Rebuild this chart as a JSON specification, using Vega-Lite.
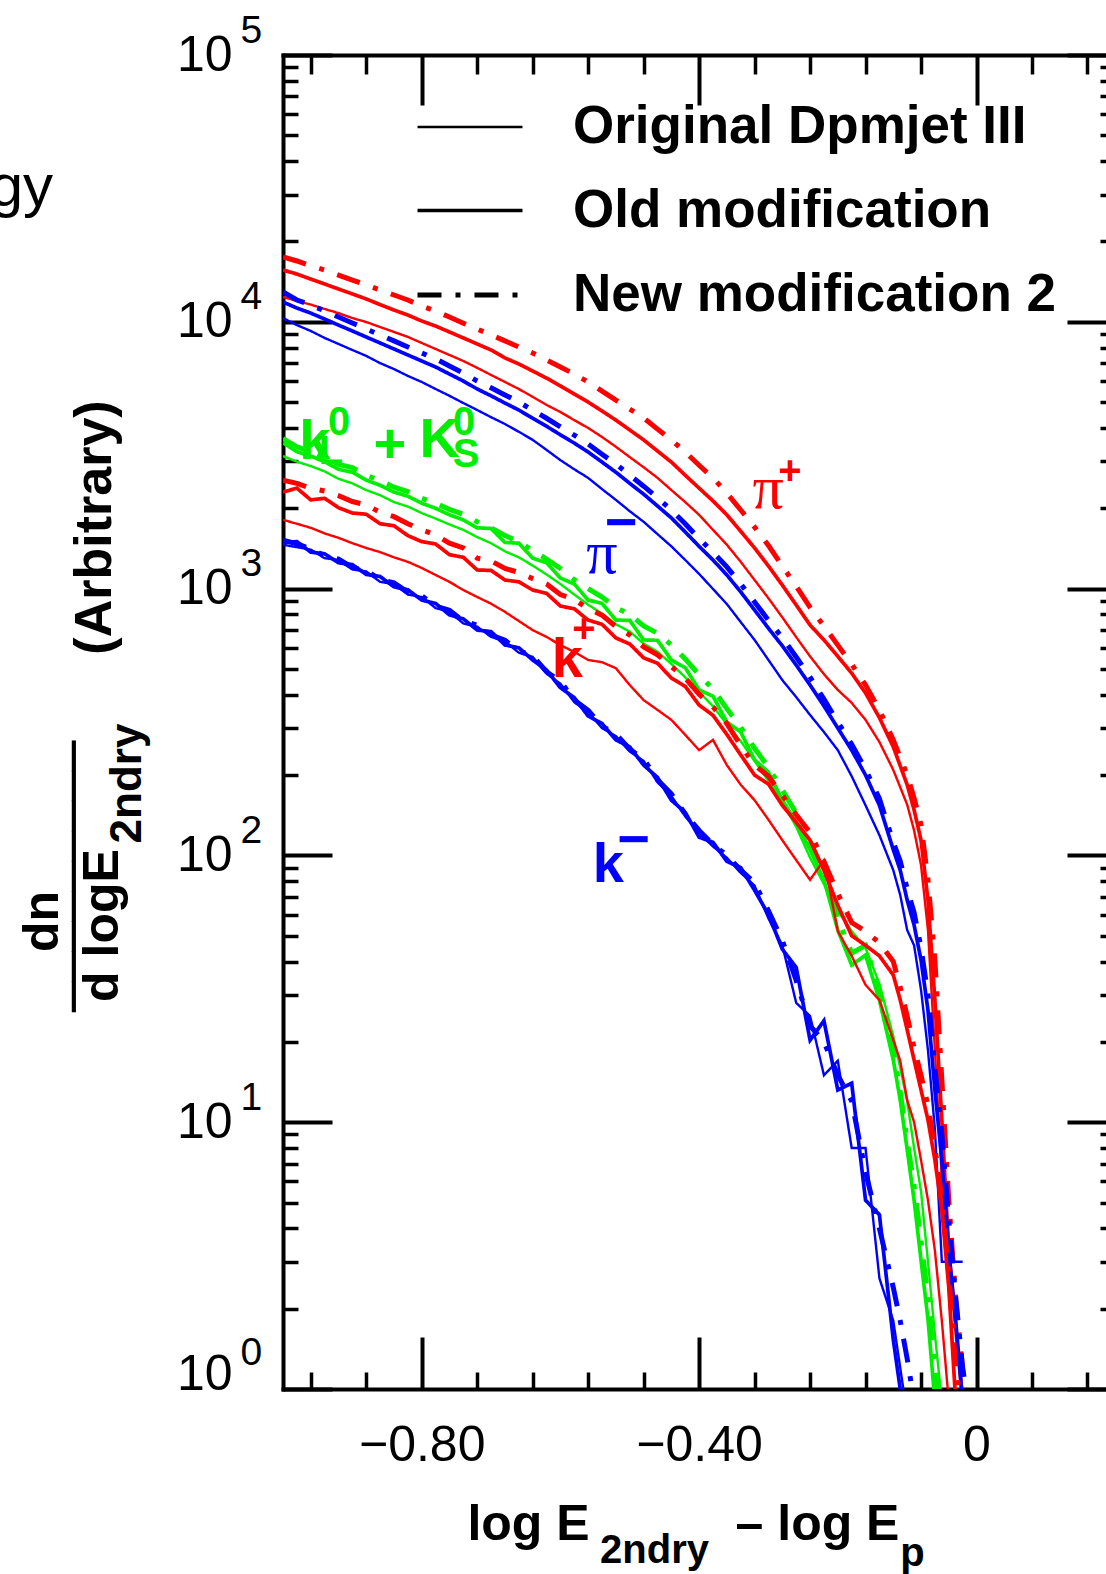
{
  "$schema": "https://vega.github.io/schema/vega-lite/v6.json",
  "width": 823,
  "height": 1334,
  "autosize": {"type": "none"},
  "padding": {"left": 283, "top": 55, "right": 0, "bottom": 185},
  "background": "white",
  "title": {"text": "gy", "orient": "top", "anchor": "start", "frame": "group", "align": "right", "baseline": "alphabetic", "offset": 0, "dx": -230, "dy": 255, "fontSize": 60, "font": "Liberation Sans", "fontWeight": "normal", "color": "black"},
  "config": {
    "view": {"stroke": null},
    "axis": {"grid": false, "domainColor": "black", "tickColor": "black", "labelColor": "black", "titleColor": "black", "labelFont": "Liberation Sans", "titleFont": "Liberation Sans", "titleFontWeight": "bold", "titleAlign": "center", "titleBaseline": "middle", "labelOverlap": false, "labelFlush": false, "tickCap": "butt", "domainCap": "square", "titleFontSize": 50}
  },
  "resolve": {"axis": {"x": "independent", "y": "independent"}},
  "datasets": {
    "series": [
      {"key": "pp_o", "particle": "π+", "model": "Original Dpmjet III"},
      {"key": "pp_m", "particle": "π+", "model": "Old modification"},
      {"key": "pp_n", "particle": "π+", "model": "New modification 2"},
      {"key": "pm_o", "particle": "π−", "model": "Original Dpmjet III"},
      {"key": "pm_m", "particle": "π−", "model": "Old modification"},
      {"key": "pm_n", "particle": "π−", "model": "New modification 2"},
      {"key": "k0_o", "particle": "K0", "model": "Original Dpmjet III"},
      {"key": "k0_m", "particle": "K0", "model": "Old modification"},
      {"key": "k0_n", "particle": "K0", "model": "New modification 2"},
      {"key": "kp_o", "particle": "K+", "model": "Original Dpmjet III"},
      {"key": "kp_m", "particle": "K+", "model": "Old modification"},
      {"key": "kp_n", "particle": "K+", "model": "New modification 2"},
      {"key": "km_o", "particle": "K−", "model": "Original Dpmjet III"},
      {"key": "km_m", "particle": "K−", "model": "Old modification"},
      {"key": "km_n", "particle": "K−", "model": "New modification 2"}
    ],
    "curves": [
      {"x": -1.00, "pp_o": 12390, "pp_m": 15640, "pp_n": 17500, "pm_o": 10330, "pm_m": 11860, "pm_n": 12940, "k0_o": 3140, "k0_m": 3520, "k0_n": 3650, "kp_o": 1810, "kp_m": 2300, "kp_n": 2550, "km_o": 1460, "km_m": 1490, "km_n": 1520},
      {"x": -0.98, "pp_o": 11970, "pp_m": 15100, "pp_n": 16900, "pm_o": 9720, "pm_m": 11260, "pm_n": 12070, "k0_o": 2990, "k0_m": 3260, "k0_n": 3400, "kp_o": 1750, "kp_m": 2380, "kp_n": 2480, "km_o": 1430, "km_m": 1500, "km_n": 1470},
      {"x": -0.96, "pp_o": 11600, "pp_m": 14460, "pp_n": 16200, "pm_o": 9240, "pm_m": 10780, "pm_n": 11560, "k0_o": 2880, "k0_m": 3140, "k0_n": 3260, "kp_o": 1690, "kp_m": 2150, "kp_n": 2380, "km_o": 1400, "km_m": 1370, "km_n": 1410},
      {"x": -0.94, "pp_o": 11170, "pp_m": 13860, "pp_n": 15640, "pm_o": 8700, "pm_m": 10240, "pm_n": 10980, "k0_o": 2750, "k0_m": 2990, "k0_n": 3110, "kp_o": 1610, "kp_m": 2180, "kp_n": 2320, "km_o": 1300, "km_m": 1350, "km_n": 1330},
      {"x": -0.92, "pp_o": 10780, "pp_m": 13270, "pp_n": 14970, "pm_o": 8260, "pm_m": 9720, "pm_n": 10420, "k0_o": 2580, "k0_m": 2800, "k0_n": 2920, "kp_o": 1550, "kp_m": 2010, "kp_n": 2230, "km_o": 1280, "km_m": 1250, "km_n": 1290},
      {"x": -0.90, "pp_o": 10330, "pp_m": 12720, "pp_n": 14340, "pm_o": 7840, "pm_m": 9240, "pm_n": 9900, "k0_o": 2480, "k0_m": 2730, "k0_n": 2840, "kp_o": 1480, "kp_m": 1920, "kp_n": 2120, "km_o": 1180, "km_m": 1230, "km_n": 1200},
      {"x": -0.88, "pp_o": 9980, "pp_m": 12180, "pp_n": 13740, "pm_o": 7450, "pm_m": 8770, "pm_n": 9400, "k0_o": 2340, "k0_m": 2550, "k0_n": 2660, "kp_o": 1420, "kp_m": 1900, "kp_n": 2060, "km_o": 1160, "km_m": 1130, "km_n": 1170},
      {"x": -0.86, "pp_o": 9560, "pp_m": 11600, "pp_n": 13160, "pm_o": 7000, "pm_m": 8330, "pm_n": 8930, "k0_o": 2240, "k0_m": 2440, "k0_n": 2540, "kp_o": 1370, "kp_m": 1750, "kp_n": 1930, "km_o": 1060, "km_m": 1110, "km_n": 1080},
      {"x": -0.84, "pp_o": 9160, "pp_m": 11070, "pp_n": 12600, "pm_o": 6650, "pm_m": 7910, "pm_n": 8480, "k0_o": 2110, "k0_m": 2300, "k0_n": 2400, "kp_o": 1310, "kp_m": 1720, "kp_n": 1860, "km_o": 1040, "km_m": 1015, "km_n": 1050},
      {"x": -0.82, "pp_o": 8780, "pp_m": 10600, "pp_n": 12070, "pm_o": 6270, "pm_m": 7510, "pm_n": 8050, "k0_o": 2030, "k0_m": 2220, "k0_n": 2310, "kp_o": 1260, "kp_m": 1580, "kp_n": 1750, "km_o": 950, "km_m": 990, "km_n": 970},
      {"x": -0.80, "pp_o": 8330, "pp_m": 10070, "pp_n": 11460, "pm_o": 5950, "pm_m": 7130, "pm_n": 7640, "k0_o": 1920, "k0_m": 2090, "k0_n": 2180, "kp_o": 1195, "kp_m": 1500, "kp_n": 1660, "km_o": 930, "km_m": 906, "km_n": 940},
      {"x": -0.78, "pp_o": 7910, "pp_m": 9640, "pp_n": 10980, "pm_o": 5600, "pm_m": 6770, "pm_n": 7260, "k0_o": 1830, "k0_m": 2000, "k0_n": 2090, "kp_o": 1125, "kp_m": 1470, "kp_n": 1590, "km_o": 845, "km_m": 880, "km_n": 860},
      {"x": -0.76, "pp_o": 7510, "pp_m": 9160, "pp_n": 10420, "pm_o": 5280, "pm_m": 6370, "pm_n": 6830, "k0_o": 1740, "k0_m": 1890, "k0_n": 1980, "kp_o": 1060, "kp_m": 1340, "kp_n": 1480, "km_o": 820, "km_m": 797, "km_n": 830},
      {"x": -0.74, "pp_o": 7130, "pp_m": 8700, "pp_n": 9880, "pm_o": 4960, "pm_m": 6000, "pm_n": 6430, "k0_o": 1660, "k0_m": 1810, "k0_n": 1900, "kp_o": 988, "kp_m": 1310, "kp_n": 1420, "km_o": 740, "km_m": 770, "km_n": 755},
      {"x": -0.72, "pp_o": 6720, "pp_m": 8260, "pp_n": 9390, "pm_o": 4670, "pm_m": 5600, "pm_n": 6000, "k0_o": 1560, "k0_m": 1690, "k0_n": 1780, "kp_o": 930, "kp_m": 1174, "kp_n": 1300, "km_o": 720, "km_m": 699, "km_n": 730},
      {"x": -0.70, "pp_o": 6320, "pp_m": 7840, "pp_n": 8930, "pm_o": 4390, "pm_m": 5280, "pm_n": 5660, "k0_o": 1480, "k0_m": 1680, "k0_n": 1690, "kp_o": 878, "kp_m": 1170, "kp_n": 1270, "km_o": 660, "km_m": 690, "km_n": 670},
      {"x": -0.68, "pp_o": 5950, "pp_m": 7320, "pp_n": 8480, "pm_o": 4140, "pm_m": 4960, "pm_n": 5320, "k0_o": 1380, "k0_m": 1490, "k0_n": 1580, "kp_o": 818, "kp_m": 1077, "kp_n": 1190, "km_o": 635, "km_m": 615, "km_n": 640},
      {"x": -0.66, "pp_o": 5600, "pp_m": 6950, "pp_n": 8050, "pm_o": 3870, "pm_m": 4670, "pm_n": 5010, "k0_o": 1310, "k0_m": 1480, "k0_n": 1500, "kp_o": 756, "kp_m": 1060, "kp_n": 1150, "km_o": 575, "km_m": 600, "km_n": 585},
      {"x": -0.64, "pp_o": 5230, "pp_m": 6540, "pp_n": 7640, "pm_o": 3610, "pm_m": 4350, "pm_n": 4660, "k0_o": 1220, "k0_m": 1300, "k0_n": 1390, "kp_o": 699, "kp_m": 988, "kp_n": 1090, "km_o": 555, "km_m": 540, "km_n": 560},
      {"x": -0.62, "pp_o": 4880, "pp_m": 6150, "pp_n": 7190, "pm_o": 3310, "pm_m": 4060, "pm_n": 4350, "k0_o": 1130, "k0_m": 1250, "k0_n": 1290, "kp_o": 659, "kp_m": 960, "kp_n": 1040, "km_o": 480, "km_m": 495, "km_n": 488},
      {"x": -0.60, "pp_o": 4590, "pp_m": 5750, "pp_n": 6770, "pm_o": 3030, "pm_m": 3770, "pm_n": 4040, "k0_o": 1040, "k0_m": 1096, "k0_n": 1190, "kp_o": 614, "kp_m": 860, "kp_n": 950, "km_o": 440, "km_m": 425, "km_n": 450},
      {"x": -0.58, "pp_o": 4280, "pp_m": 5360, "pp_n": 6370, "pm_o": 2800, "pm_m": 3510, "pm_n": 3760, "k0_o": 950, "k0_m": 1040, "k0_n": 1080, "kp_o": 579, "kp_m": 840, "kp_n": 910, "km_o": 375, "km_m": 390, "km_n": 382},
      {"x": -0.56, "pp_o": 4000, "pp_m": 5000, "pp_n": 5950, "pm_o": 2600, "pm_m": 3250, "pm_n": 3480, "k0_o": 870, "k0_m": 906, "k0_n": 1000, "kp_o": 540, "kp_m": 762, "kp_n": 840, "km_o": 345, "km_m": 333, "km_n": 350},
      {"x": -0.54, "pp_o": 3700, "pp_m": 4630, "pp_n": 5500, "pm_o": 2360, "pm_m": 2980, "pm_n": 3190, "k0_o": 806, "k0_m": 880, "k0_n": 930, "kp_o": 530, "kp_m": 735, "kp_n": 795, "km_o": 300, "km_m": 312, "km_n": 305},
      {"x": -0.52, "pp_o": 3400, "pp_m": 4280, "pp_n": 5090, "pm_o": 2150, "pm_m": 2730, "pm_n": 2930, "k0_o": 735, "k0_m": 762, "k0_n": 850, "kp_o": 503, "kp_m": 653, "kp_n": 720, "km_o": 280, "km_m": 271, "km_n": 285},
      {"x": -0.50, "pp_o": 3110, "pp_m": 3930, "pp_n": 4710, "pm_o": 1950, "pm_m": 2480, "pm_n": 2660, "k0_o": 690, "k0_m": 760, "k0_n": 800, "kp_o": 435, "kp_m": 620, "kp_n": 670, "km_o": 245, "km_m": 255, "km_n": 250},
      {"x": -0.48, "pp_o": 2850, "pp_m": 3610, "pp_n": 4360, "pm_o": 1780, "pm_m": 2260, "pm_n": 2420, "k0_o": 622, "k0_m": 642, "k0_n": 725, "kp_o": 382, "kp_m": 550, "kp_n": 605, "km_o": 226, "km_m": 218, "km_n": 230},
      {"x": -0.46, "pp_o": 2600, "pp_m": 3280, "pp_n": 3960, "pm_o": 1600, "pm_m": 2040, "pm_n": 2190, "k0_o": 580, "k0_m": 640, "k0_n": 680, "kp_o": 351, "kp_m": 525, "kp_n": 565, "km_o": 188, "km_m": 196, "km_n": 192},
      {"x": -0.44, "pp_o": 2340, "pp_m": 2980, "pp_n": 3610, "pm_o": 1440, "pm_m": 1840, "pm_n": 1970, "k0_o": 522, "k0_m": 540, "k0_n": 615, "kp_o": 322, "kp_m": 462, "kp_n": 510, "km_o": 167, "km_m": 161, "km_n": 170},
      {"x": -0.42, "pp_o": 2110, "pp_m": 2660, "pp_n": 3250, "pm_o": 1280, "pm_m": 1630, "pm_n": 1750, "k0_o": 465, "k0_m": 505, "k0_n": 545, "kp_o": 283, "kp_m": 430, "kp_n": 462, "km_o": 140, "km_m": 145, "km_n": 143},
      {"x": -0.40, "pp_o": 1890, "pp_m": 2380, "pp_n": 2900, "pm_o": 1135, "pm_m": 1440, "pm_n": 1540, "k0_o": 410, "k0_m": 417, "k0_n": 475, "kp_o": 248, "kp_m": 366, "kp_n": 402, "km_o": 121, "km_m": 117, "km_n": 124},
      {"x": -0.38, "pp_o": 1660, "pp_m": 2130, "pp_n": 2600, "pm_o": 997, "pm_m": 1280, "pm_n": 1370, "k0_o": 362, "k0_m": 395, "k0_n": 420, "kp_o": 271, "kp_m": 335, "kp_n": 360, "km_o": 108, "km_m": 112, "km_n": 110},
      {"x": -0.36, "pp_o": 1460, "pp_m": 1890, "pp_n": 2280, "pm_o": 875, "pm_m": 1125, "pm_n": 1206, "k0_o": 310, "k0_m": 316, "k0_n": 355, "kp_o": 218, "kp_m": 284, "kp_n": 312, "km_o": 98, "km_m": 95, "km_n": 100},
      {"x": -0.34, "pp_o": 1260, "pp_m": 1640, "pp_n": 1970, "pm_o": 749, "pm_m": 972, "pm_n": 1042, "k0_o": 268, "k0_m": 290, "k0_n": 302, "kp_o": 184, "kp_m": 238, "kp_n": 258, "km_o": 86, "km_m": 90, "km_n": 88},
      {"x": -0.32, "pp_o": 1077, "pp_m": 1420, "pp_n": 1700, "pm_o": 642, "pm_m": 831, "pm_n": 891, "k0_o": 226, "k0_m": 228, "k0_n": 252, "kp_o": 161, "kp_m": 200, "kp_n": 218, "km_o": 77, "km_m": 74, "km_n": 79},
      {"x": -0.30, "pp_o": 920, "pp_m": 1215, "pp_n": 1450, "pm_o": 540, "pm_m": 710, "pm_n": 761, "k0_o": 190, "k0_m": 205, "k0_n": 214, "kp_o": 136, "kp_m": 185, "kp_n": 198, "km_o": 58, "km_m": 60, "km_n": 62},
      {"x": -0.28, "pp_o": 780, "pp_m": 1030, "pp_n": 1215, "pm_o": 454, "pm_m": 610, "pm_n": 654, "k0_o": 158, "k0_m": 161, "k0_n": 176, "kp_o": 114, "kp_m": 154, "kp_n": 168, "km_o": 46, "km_m": 44.5, "km_n": 48},
      {"x": -0.26, "pp_o": 658, "pp_m": 868, "pp_n": 1020, "pm_o": 392, "pm_m": 517, "pm_n": 554, "k0_o": 128, "k0_m": 133, "k0_n": 144, "kp_o": 96, "kp_m": 133, "kp_n": 142, "km_o": 28, "km_m": 38, "km_n": 34},
      {"x": -0.24, "pp_o": 557, "pp_m": 730, "pp_n": 850, "pm_o": 336, "pm_m": 435, "pm_n": 466, "k0_o": 98, "k0_m": 105, "k0_n": 113, "kp_o": 81, "kp_m": 114, "kp_n": 122, "km_o": 25, "km_m": 20.3, "km_n": 23},
      {"x": -0.22, "pp_o": 478, "pp_m": 642, "pp_n": 724, "pm_o": 290, "pm_m": 363, "pm_n": 385, "k0_o": 78, "k0_m": 81, "k0_n": 86, "kp_o": 96, "kp_m": 88, "kp_n": 95, "km_o": 15, "km_m": 24, "km_n": 20},
      {"x": -0.20, "pp_o": 417, "pp_m": 557, "pp_n": 614, "pm_o": 248, "pm_m": 300, "pm_n": 316, "k0_o": 62, "k0_m": 52.5, "k0_n": 58, "kp_o": 52, "kp_m": 65, "kp_n": 72, "km_o": 17, "km_m": 13.2, "km_n": 15},
      {"x": -0.18, "pp_o": 373, "pp_m": 482, "pp_n": 521, "pm_o": 198, "pm_m": 248, "pm_n": 261, "k0_o": 52, "k0_m": 38.8, "k0_n": 43, "kp_o": 42, "kp_m": 50, "kp_n": 56, "km_o": 8, "km_m": 14, "km_n": 12},
      {"x": -0.16, "pp_o": 322, "pp_m": 406, "pp_n": 435, "pm_o": 154, "pm_m": 200, "pm_n": 210, "k0_o": 45, "k0_m": 42.3, "k0_n": 46, "kp_o": 32.7, "kp_m": 46, "kp_n": 52, "km_o": 8, "km_m": 5.1, "km_n": 6.5},
      {"x": -0.14, "pp_o": 266, "pp_m": 328, "pp_n": 351, "pm_o": 119, "pm_m": 154, "pm_n": 163, "k0_o": 33, "k0_m": 28.7, "k0_n": 31, "kp_o": 28.7, "kp_m": 42, "kp_n": 47, "km_o": 2.6, "km_m": 4.5, "km_n": 4},
      {"x": -0.12, "pp_o": 209, "pp_m": 255, "pp_n": 271, "pm_o": 88, "pm_m": 105, "pm_n": 112, "k0_o": 21, "k0_m": 17.1, "k0_n": 18.5, "kp_o": 20.3, "kp_m": 35.6, "kp_n": 40, "km_o": 1.8, "km_m": 1.53, "km_n": 2.4},
      {"x": -0.11, "pm_o": 71, "pm_m": 88, "pm_n": 95, "k0_o": 16, "k0_m": 12.1, "k0_n": 13, "kp_o": 17, "kp_m": 28.7, "kp_n": 32, "km_o": 1.2, "km_m": 1.0, "km_n": 1.8},
      {"x": -0.10, "pp_o": 155, "pp_m": 184, "pp_n": 200, "pm_o": 52.5, "pm_m": 68, "pm_n": 75, "k0_o": 12, "k0_m": 7.9, "k0_n": 8.5, "kp_o": 12.1, "kp_m": 22.2, "kp_n": 25, "km_o": 0.8, "km_m": 0.75, "km_n": 1.3},
      {"x": -0.09, "pp_o": 124, "pp_m": 148, "pp_n": 164, "pm_o": 46, "pm_m": 54.8, "pm_n": 61, "k0_o": 8, "k0_m": 5.1, "k0_n": 5.8, "kp_o": 10, "kp_m": 17.1, "kp_n": 19, "km_n": 0.9},
      {"x": -0.08, "pp_o": 92, "pp_m": 114, "pp_n": 130, "pm_o": 31.3, "pm_m": 40.5, "pm_n": 45, "k0_o": 5.5, "k0_m": 3.04, "k0_n": 3.6, "kp_o": 7.2, "kp_m": 13.2, "kp_n": 15},
      {"x": -0.07, "pp_o": 52.5, "pp_m": 68, "pp_n": 81, "pm_o": 18.6, "pm_m": 26.3, "pm_n": 30, "k0_o": 3, "k0_m": 1.83, "k0_n": 2.2, "kp_o": 5.1, "kp_m": 10.2, "kp_n": 11.5},
      {"x": -0.06, "pp_o": 18.6, "pp_m": 28.7, "pp_n": 40.5, "pm_o": 9.4, "pm_m": 13.2, "pm_n": 16, "k0_o": 1.6, "k0_m": 0.9, "k0_n": 1.2, "kp_o": 3.3, "kp_m": 7.2, "kp_n": 8},
      {"x": -0.05, "pp_o": 6.1, "pp_m": 10.2, "pp_n": 14.4, "pm_o": 3, "pm_m": 7.2, "pm_n": 9, "k0_o": 0.9, "k0_n": 0.8, "kp_o": 1.8, "kp_m": 4.7, "kp_n": 5.2},
      {"x": -0.04, "pp_o": 2.6, "pp_m": 3.3, "pp_n": 5.1, "pm_o": 3, "pm_m": 3.3, "pm_n": 4.3, "kp_o": 0.9, "kp_m": 2.4, "kp_n": 2.7},
      {"x": -0.03, "pp_o": 0.9, "pp_m": 1.7, "pp_n": 2.16, "pm_o": 3, "pm_m": 1.8, "pm_n": 2.2, "kp_m": 0.9, "kp_n": 1.2},
      {"x": -0.02, "pp_m": 0.9, "pp_n": 1.18, "pm_o": 3, "pm_m": 0.9, "pm_n": 1.2, "kp_n": 0.8},
      {"x": -0.01, "pp_n": 0.75, "pm_n": 0.8}
    ],
    "names": [
      {"t": "k", "x": -0.590, "y": 540, "particle": "K+"},
      {"t": "k", "x": -0.531, "y": 92, "particle": "K−"},
      {"t": "k", "x": -0.954, "y": 3540, "particle": "K0"},
      {"t": "+", "x": -0.846, "y": 3450, "particle": "K0"},
      {"t": "K", "x": -0.774, "y": 3610, "particle": "K0"},
      {"t": "−", "x": -0.512, "y": 1746, "particle": "π−"},
      {"t": "−", "x": -0.494, "y": 113, "particle": "K−"}
    ],
    "pis": [
      {"t": "π", "x": -0.3006, "y": 2360, "particle": "π+"},
      {"t": "π", "x": -0.540, "y": 1349, "particle": "π−"}
    ],
    "sups": [
      {"t": "+", "x": -0.269, "y": 2735, "particle": "π+"},
      {"t": "+", "x": -0.566, "y": 700, "particle": "K+"},
      {"t": "0", "x": -0.919, "y": 4180, "particle": "K0"},
      {"t": "0", "x": -0.739, "y": 4180, "particle": "K0"}
    ],
    "subs": [
      {"t": "L", "x": -0.931, "y": 3250, "particle": "K0"},
      {"t": "S", "x": -0.736, "y": 3170, "particle": "K0"}
    ]
  },
  "layer": [
    {
      "data": {"name": "curves"},
      "transform": [
        {"fold": ["pp_o", "pp_m", "pp_n", "pm_o", "pm_m", "pm_n", "k0_o", "k0_m", "k0_n", "kp_o", "kp_m", "kp_n", "km_o", "km_m", "km_n"], "as": ["key", "value"]},
        {"filter": "isValid(datum.value)"},
        {"lookup": "key", "from": {"data": {"name": "series"}, "key": "key", "fields": ["particle", "model"]}}
      ],
      "mark": {"type": "line", "clip": true, "strokeCap": "butt", "strokeJoin": "miter"},
      "encoding": {
        "x": {"field": "x", "type": "quantitative", "scale": {"domain": [-1, 0.1867], "nice": false, "zero": false},
          "axis": {"orient": "bottom", "values": [-0.8, -0.4, 0], "labelExpr": "datum.value == 0 ? '0' : '−' + format(abs(datum.value), '.2f')", "tickSize": -52, "tickWidth": 4, "domainWidth": 4, "labelFontSize": 50, "labelPadding": 108, "labelBaseline": "middle", "title": "log E", "titleX": 245, "titleY": 135}},
        "y": {"field": "value", "type": "quantitative", "scale": {"type": "log", "domain": [1, 100000], "nice": false},
          "axis": {"orient": "left", "values": [1, 10, 100, 1000, 10000, 100000], "labelExpr": "'10'", "tickSize": -49, "tickWidth": 4, "domainWidth": 4, "labelFontSize": 50, "labelPadding": 100, "labelBaseline": {"condition": {"test": "datum.value <= 1", "value": "alphabetic"}, "value": "middle"}, "title": "(Arbitrary)", "titleFontSize": 52, "titleAngle": 270, "titleX": -189, "titleY": 472}},
        "color": {"field": "particle", "type": "nominal", "scale": {"domain": ["π+", "π−", "K0", "K+", "K−"], "range": ["#ff0000", "#0000ff", "#00ee00", "#ff0000", "#0000ff"]}, "legend": null},
        "strokeDash": {"field": "model", "type": "nominal", "scale": {"domain": ["Original Dpmjet III", "Old modification", "New modification 2"], "range": [[1, 0], [1, 0], [24, 14, 5, 14]]},
          "legend": {"orient": "none", "legendX": 132, "legendY": 18, "title": null, "padding": 0, "labelFont": "Liberation Sans", "labelFontWeight": "bold", "labelFontSize": 53, "labelColor": "black", "labelOffset": 48, "labelLimit": 0, "rowPadding": 2, "symbolType": "stroke", "symbolSize": 11025, "symbolStrokeColor": "black"}},
        "strokeWidth": {"field": "model", "type": "nominal", "scale": {"domain": ["Original Dpmjet III", "Old modification", "New modification 2"], "range": [2.4, 5, 5]},
          "legend": {"orient": "none", "legendX": 132, "legendY": 18, "title": null, "padding": 0, "labelFont": "Liberation Sans", "labelFontWeight": "bold", "labelFontSize": 53, "labelColor": "black", "labelOffset": 48, "labelLimit": 0, "rowPadding": 2, "symbolType": "stroke", "symbolSize": 11025, "symbolStrokeColor": "black"}},
        "detail": {"field": "key", "type": "nominal"}
      }
    },
    {
      "data": {"name": "names"},
      "mark": {"type": "text", "font": "Liberation Sans", "fontWeight": "bold", "fontSize": 56, "align": "center", "baseline": "middle"},
      "encoding": {
        "x": {"field": "x", "type": "quantitative", "scale": {"domain": [-1, 0.1867], "nice": false, "zero": false},
          "axis": {"orient": "bottom", "values": [-0.96, -0.88, -0.72, -0.64, -0.56, -0.48, -0.32, -0.24, -0.16, -0.08, 0.08, 0.16], "tickSize": -17, "tickWidth": 3.5, "labels": false, "domain": false, "title": "2ndry", "titleFontSize": 40, "titleX": 371, "titleY": 161}},
        "y": {"field": "y", "type": "quantitative", "scale": {"type": "log", "domain": [1, 100000], "nice": false},
          "axis": {"orient": "left", "values": [2, 3, 4, 5, 6, 7, 8, 9, 20, 30, 40, 50, 60, 70, 80, 90, 200, 300, 400, 500, 600, 700, 800, 900, 2000, 3000, 4000, 5000, 6000, 7000, 8000, 9000, 20000, 30000, 40000, 50000, 60000, 70000, 80000, 90000], "tickSize": -15, "tickWidth": 3.5, "labels": false, "domain": false, "title": "dn", "titleAngle": 270, "titleX": -241, "titleY": 866}},
        "color": {"field": "particle", "type": "nominal", "legend": null},
        "text": {"field": "t"}
      }
    },
    {
      "data": {"name": "pis"},
      "mark": {"type": "text", "font": "Liberation Serif", "fontSize": 62, "align": "center", "baseline": "middle"},
      "encoding": {
        "x": {"field": "x", "type": "quantitative", "scale": {"domain": [-1, 0.1867], "nice": false, "zero": false},
          "axis": {"orient": "top", "values": [-0.8, -0.4, 0], "tickSize": -50, "tickWidth": 4, "labels": false, "domain": true, "domainWidth": 4, "title": "– log E", "titleX": 534, "titleY": 1469}},
        "y": {"field": "y", "type": "quantitative", "scale": {"type": "log", "domain": [1, 100000], "nice": false},
          "axis": {"orient": "left", "values": [1, 10, 100, 1000, 10000, 100000], "labelExpr": "'' + round(log(datum.value) / LN10)", "ticks": false, "domain": false, "labelAlign": "left", "labelBaseline": {"condition": {"test": "datum.value <= 1", "value": "alphabetic"}, "value": "middle"}, "labelPadding": 43, "labelFontSize": 39, "labelOffset": -25, "title": "d logE", "titleAngle": 270, "titleX": -181, "titleY": 870}},
        "color": {"field": "particle", "type": "nominal", "legend": null},
        "text": {"field": "t"}
      }
    },
    {
      "data": {"name": "sups"},
      "mark": {"type": "text", "font": "Liberation Sans", "fontWeight": "bold", "fontSize": 40, "align": "center", "baseline": "middle"},
      "encoding": {
        "x": {"field": "x", "type": "quantitative", "scale": {"domain": [-1, 0.1867], "nice": false, "zero": false},
          "axis": {"orient": "top", "values": [-0.96, -0.88, -0.72, -0.64, -0.56, -0.48, -0.32, -0.24, -0.16, -0.08, 0.08, 0.16], "tickSize": -19, "tickWidth": 3.5, "labels": false, "domain": false, "title": "p", "titleFontSize": 40, "titleX": 629, "titleY": 1498}},
        "y": {"field": "y", "type": "quantitative", "scale": {"type": "log", "domain": [1, 100000], "nice": false},
          "axis": {"orient": "right", "values": [1, 10, 100, 1000, 10000, 100000], "tickSize": -39, "tickWidth": 4, "labels": false, "domain": false, "title": "2ndry", "titleFontSize": 44, "titleAngle": 270, "titleX": -979, "titleY": 728}},
        "color": {"field": "particle", "type": "nominal", "legend": null},
        "text": {"field": "t"}
      }
    },
    {
      "data": {"name": "subs"},
      "mark": {"type": "text", "font": "Liberation Sans", "fontWeight": "bold", "fontSize": 40, "align": "center", "baseline": "middle"},
      "encoding": {
        "x": {"field": "x", "type": "quantitative", "scale": {"domain": [-1, 0.1867], "nice": false, "zero": false}, "axis": null},
        "y": {"field": "y", "type": "quantitative", "scale": {"type": "log", "domain": [1, 100000], "nice": false},
          "axis": {"orient": "right", "values": [2, 3, 4, 5, 6, 7, 8, 9, 20, 30, 40, 50, 60, 70, 80, 90, 200, 300, 400, 500, 600, 700, 800, 900, 2000, 3000, 4000, 5000, 6000, 7000, 8000, 9000, 20000, 30000, 40000, 50000, 60000, 70000, 80000, 90000], "tickSize": -6, "tickWidth": 3.5, "labels": false, "domain": false, "title": "─────────", "titleFont": "DejaVu Sans Mono", "titleFontWeight": "normal", "titleFontSize": 50, "titleAngle": 270, "titleX": -1031, "titleY": 821}},
        "color": {"field": "particle", "type": "nominal", "legend": null},
        "text": {"field": "t"}
      }
    }
  ]
}
